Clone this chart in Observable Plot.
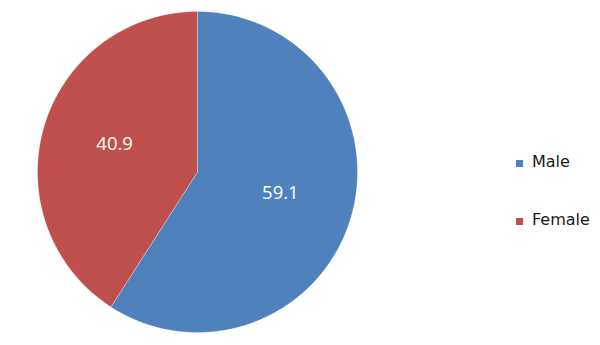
<!DOCTYPE html>
<html>
<head>
<meta charset="utf-8">
<script src="https://cdn.jsdelivr.net/npm/d3@7"></script>
<script src="https://cdn.jsdelivr.net/npm/@observablehq/plot@0.6"></script>
<style>
  html, body { margin: 0; padding: 0; background: #fff; }
  #chart { position: relative; width: 600px; height: 345px; font-family: "Open Sans", sans-serif; }
  #legend { position: absolute; left: 516px; top: 151px; font-family: "DejaVu Sans", sans-serif; font-size: 16px; color: #1a1a1a; }
  .item { display: flex; align-items: center; height: 22px; line-height: 22px; }
  .item + .item { margin-top: 36px; }
  .sw { width: 7px; height: 7px; margin-right: 9px; margin-top: 2px; }
</style>
</head>
<body>
<div id="chart"></div>
<script>
const categories = ["Male", "Female"];
const values = [59.1, 40.9];
const colors = ["#4f81bd", "#c0504d"];

// slice geometry from data via d3.pie (clockwise from 12 o'clock)
const arcs = d3.pie().sort(null).value(d => d.value)(
  categories.map((c, i) => ({name: c, value: values[i]}))
);
const pts = [];
for (const a of arcs) {
  const name = a.data.name;
  pts.push({name, x: 0, y: 0});
  const n = Math.max(2, Math.ceil((a.endAngle - a.startAngle) / 0.005));
  for (let k = 0; k <= n; k++) {
    const t = a.startAngle + (a.endAngle - a.startAngle) * k / n;
    pts.push({name, x: Math.sin(t), y: Math.cos(t)});
  }
  pts.push({name, x: 0, y: 0});
}
const labels = arcs.map(a => {
  const m = (a.startAngle + a.endAngle) / 2;
  return {name: a.data.name, value: a.data.value, x: 0.54 * Math.sin(m), y: 0.54 * Math.cos(m)};
});

const plot = Plot.plot({
  width: 600,
  height: 345,
  marginLeft: 37,
  marginRight: 243,
  marginTop: 11,
  marginBottom: 13,
  x: {domain: [-1, 1], axis: null},
  y: {domain: [-1, 1], axis: null},
  color: {domain: categories, range: colors},
  style: {fontFamily: "Open Sans, sans-serif", background: "white"},
  marks: [
    Plot.line(pts, {x: "x", y: "y", z: "name", fill: "name", stroke: "white", strokeOpacity: 0.35, strokeWidth: 0.8, curve: "linear"}),
    Plot.text(labels, {x: "x", y: "y", dy: -3, text: d => d.value.toFixed(1), fill: "white", fontSize: 18.5})
  ]
});
const chart = document.getElementById("chart");
chart.appendChild(plot);

const legend = document.createElement("div");
legend.id = "legend";
categories.forEach((c, i) => {
  const item = document.createElement("div");
  item.className = "item";
  const sw = document.createElement("div");
  sw.className = "sw";
  sw.style.background = colors[i];
  const tx = document.createElement("span");
  tx.textContent = c;
  item.appendChild(sw);
  item.appendChild(tx);
  legend.appendChild(item);
});
chart.appendChild(legend);
</script>
</body>
</html>
